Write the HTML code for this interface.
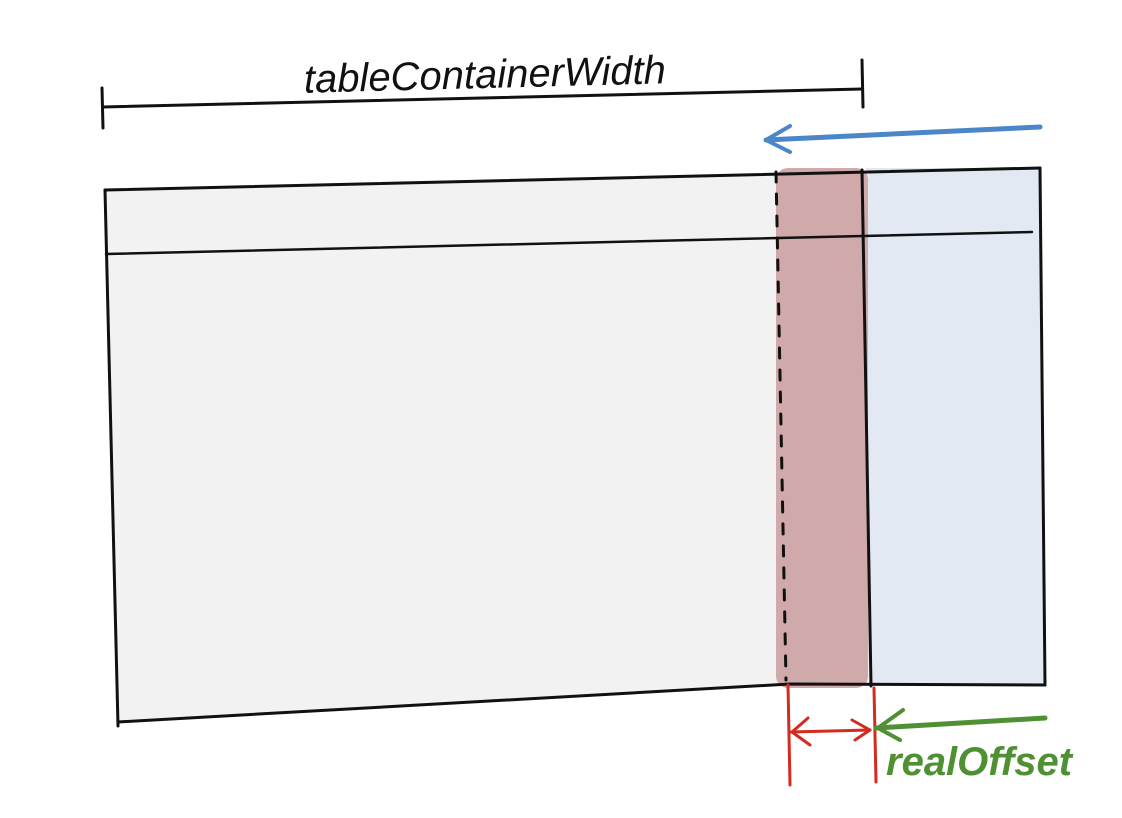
<!DOCTYPE html>
<html><head><meta charset="utf-8"><style>
html,body{margin:0;padding:0;background:#fff;width:1122px;height:818px;overflow:hidden}
svg{display:block}
</style></head><body>
<svg width="1122" height="818" viewBox="0 0 1122 818" xmlns="http://www.w3.org/2000/svg">
<g stroke-linecap="round" stroke-linejoin="round" fill="none">
<polygon points="105,190 1040,168 1045,685 790,684 118,723" fill="#f2f2f2" stroke="none"/>
<polygon points="866,168 1040,168 1045,685 870,686" fill="#e2e9f2" stroke="none"/>
<rect x="776" y="168" width="92" height="520" rx="12" fill="#d0a9aa" stroke="none"/>
<path d="M105,190 L1040,168" stroke="#111" stroke-width="3"/>
<path d="M1040,168 L1045,685" stroke="#111" stroke-width="3"/>
<path d="M1045,685 L790,684 L118,722" stroke="#111" stroke-width="3"/>
<path d="M105,190 L118,726" stroke="#111" stroke-width="3"/>
<path d="M106,254 L1032,232" stroke="#111" stroke-width="2.5"/>
<path d="M862,170 L871,686" stroke="#111" stroke-width="3"/>
<path d="M776,172 L786,680" stroke="#111" stroke-width="3" stroke-dasharray="10 12"/>
<path d="M103,107 L862,89" stroke="#111" stroke-width="3"/>
<path d="M102,88 L103,128" stroke="#111" stroke-width="3"/>
<path d="M862,60 L863,107" stroke="#111" stroke-width="3"/>
<path d="M1040,127 L766,140" stroke="#4a86c8" stroke-width="5"/>
<path d="M790,126 L766,140 L790,152" stroke="#4a86c8" stroke-width="4"/>
<path d="M788,685 L790,785" stroke="#d42a1f" stroke-width="3"/>
<path d="M874,688 L876,782" stroke="#d42a1f" stroke-width="3"/>
<path d="M791,732 L870,730" stroke="#d42a1f" stroke-width="3"/>
<path d="M808,718 L792,732 L810,745" stroke="#d42a1f" stroke-width="3"/>
<path d="M852,720 L870,730 L855,740" stroke="#d42a1f" stroke-width="3"/>
<path d="M1045,718 L876,728" stroke="#4f9033" stroke-width="5"/>
<path d="M903,710 L878,728 L900,740" stroke="#4f9033" stroke-width="4"/>
</g>
<text x="485" y="88" text-anchor="middle" font-family="Liberation Sans, sans-serif" font-style="italic" font-size="40" fill="#111" transform="rotate(-1.5 485 80)">tableContainerWidth</text>
<text x="886" y="775" font-family="Liberation Sans, sans-serif" font-style="italic" font-weight="bold" font-size="40" fill="#4f9033">realOffset</text>
</svg>
</body></html>
